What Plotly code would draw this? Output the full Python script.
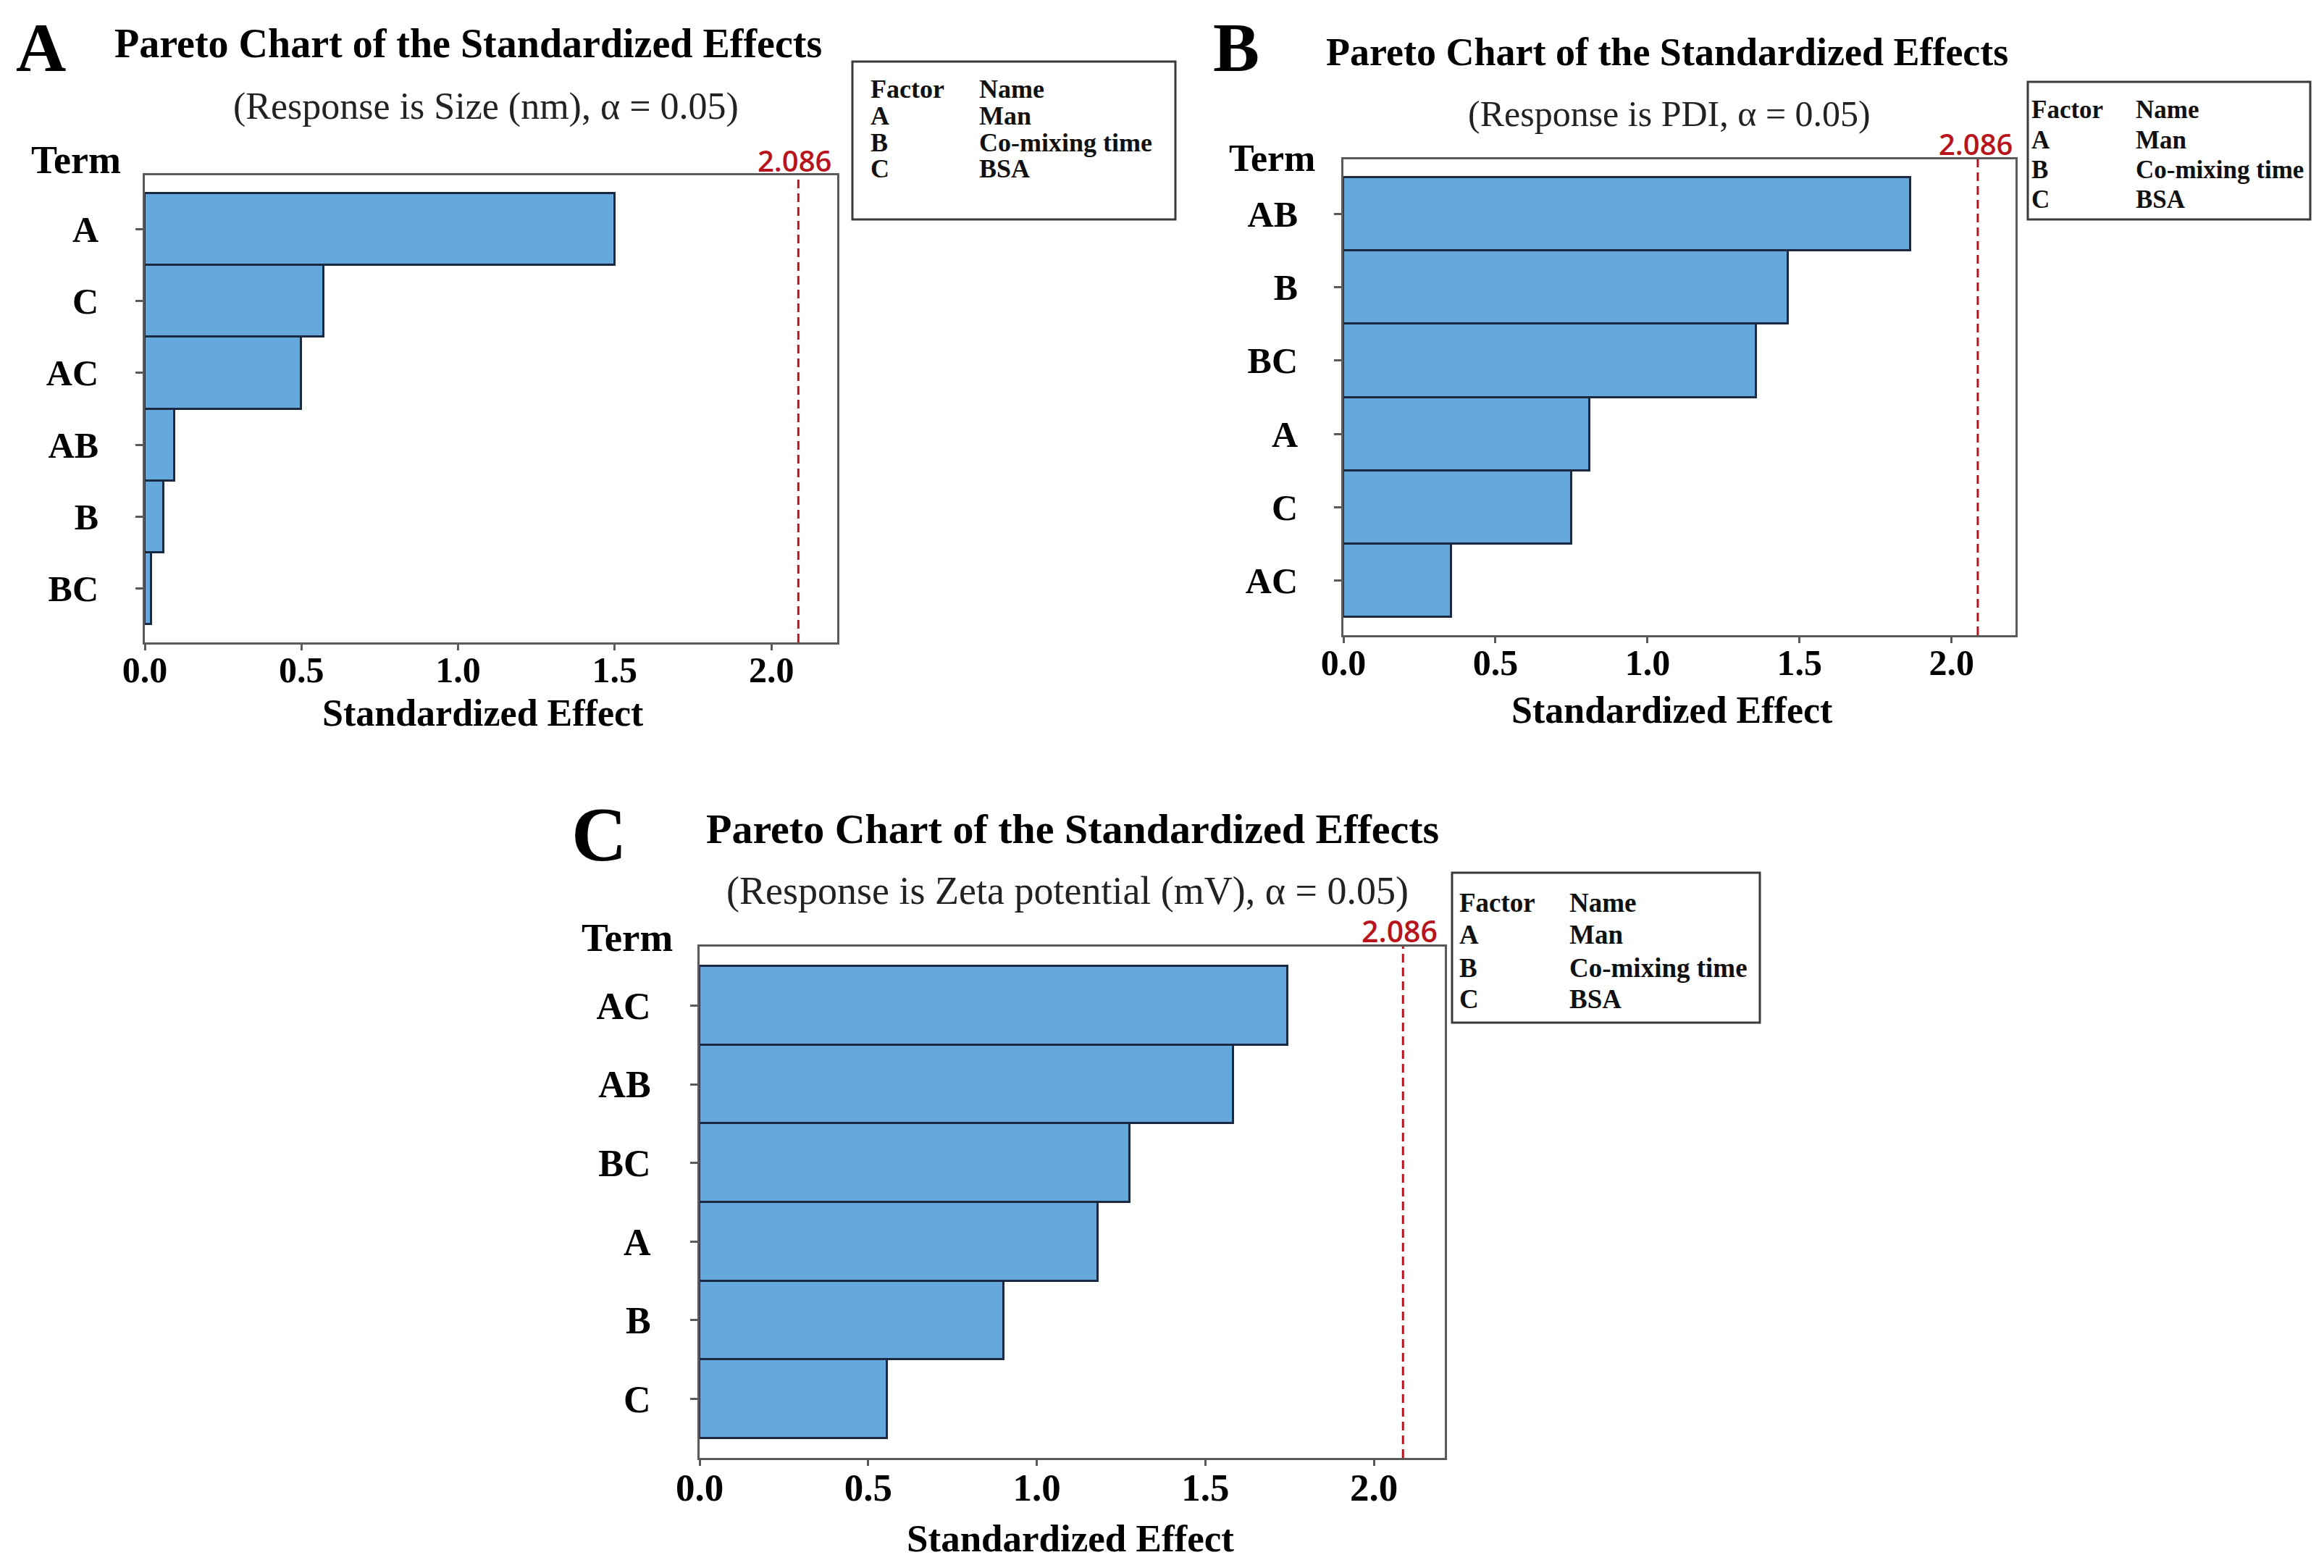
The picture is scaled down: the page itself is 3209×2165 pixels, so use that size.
import plotly.graph_objects as go

W, H = 3209, 2165

# ---------------- data ----------------
terms_a = ["A", "C", "AC", "AB", "B", "BC"]
effects_a = [1.50, 0.57, 0.50, 0.095, 0.06, 0.02]

terms_b = ["AB", "B", "BC", "A", "C", "AC"]
effects_b = [1.865, 1.463, 1.357, 0.81, 0.75, 0.355]

terms_c = ["AC", "AB", "BC", "A", "B", "C"]
effects_c = [1.745, 1.583, 1.275, 1.182, 0.902, 0.557]

critical = 2.086
x_ticks = [0.0, 0.5, 1.0, 1.5, 2.0]
x_ticktext = ["0.0", "0.5", "1.0", "1.5", "2.0"]

factors = ["A", "B", "C"]
factor_names = ["Man", "Co-mixing time", "BSA"]

panel_letters = ["A", "B", "C"]
subtitles = ["(Response is Size (nm), α = 0.05)",
             "(Response is PDI, α = 0.05)",
             "(Response is Zeta potential (mV), α = 0.05)"]
title_text = "Pareto Chart of the Standardized Effects"

# ---------------- layout helpers ----------------
OFF = 8  # page body margin offset compensation

def px(x):
    return (x - OFF) / W

def py(y):
    return 1 - (y - OFF) / H

SERIF = "Liberation Serif"
SANS = "Open Sans"
BAR_COLOR = "#65A8DC"
BAR_LINE = "#1B2A40"
FRAME = "#5A5A5A"
RED = "#B8141E"

panels = [
    dict(terms=terms_a, vals=effects_a, box=(200, 1156, 242, 887),
         letter=(56, 66, 96), title=(646, 60, 56), sub=(671, 147, 52),
         term=(105, 221, 54), crit=(1097, 221, 40), xt=(667, 985, 52),
         tick=50, ytick=50, ystand=41, xstand=-16,
         legbox=(1177, 1623, 85, 303), legcols=(1200, 1350),
         legrows=(123, 160, 197, 233), legfs=36),
    dict(terms=terms_b, vals=effects_b, box=(1855, 2783, 220, 877),
         letter=(1707, 66, 96), title=(2302, 72, 54), sub=(2305, 157, 50),
         term=(1756, 219, 52), crit=(2728, 199, 40), xt=(2309, 980, 52),
         tick=50, ytick=50, ystand=40, xstand=-16,
         legbox=(2800, 3190, 113, 303), legcols=(2803, 2947),
         legrows=(152, 193, 235, 275), legfs=35),
    dict(terms=terms_c, vals=effects_c, box=(966, 1995, 1307, 2013),
         letter=(828, 1152, 106), title=(1481, 1144, 58), sub=(1474, 1230, 54),
         term=(866, 1294, 55), crit=(1933, 1285, 41), xt=(1478, 2124, 53),
         tick=53, ytick=52, ystand=44, xstand=-16,
         legbox=(2005, 2430, 1205, 1412), legcols=(2013, 2165),
         legrows=(1246, 1290, 1336, 1380), legfs=37),
]

fig = go.Figure()
annotations = []
shapes = []

for i, p in enumerate(panels):
    n = "" if i == 0 else str(i + 1)
    xa, ya = "x" + n, "y" + n
    x0, x1, y0, y1 = p["box"]

    fig.add_trace(go.Bar(
        x=p["vals"], y=p["terms"], orientation="h", width=1,
        marker=dict(color=BAR_COLOR, line=dict(color=BAR_LINE, width=3)),
        xaxis=xa, yaxis=ya, showlegend=False, hoverinfo="x+y"))

    fig.layout["xaxis" + n] = dict(
        domain=[px(x0), px(x1)], anchor=ya, range=[0, 2.21], automargin=False,
        showgrid=False, zeroline=False, showline=True, mirror=True,
        linecolor=FRAME, linewidth=3, ticks="outside", ticklen=8,
        tickwidth=3, tickcolor=FRAME, tickvals=x_ticks,
        ticktext=["<b>%s</b>" % t for t in x_ticktext],
        tickfont=dict(family=SERIF, size=p["tick"], color="black"),
        ticklabelstandoff=p["xstand"])
    fig.layout["yaxis" + n] = dict(
        domain=[py(y1), py(y0)], anchor=xa, type="category", automargin=False,
        categoryorder="array", categoryarray=p["terms"],
        range=[len(p["terms"]) - 0.25, -0.75],
        showgrid=False, zeroline=False, showline=True, mirror=True,
        linecolor=FRAME, linewidth=3, ticks="outside", ticklen=10,
        tickwidth=3, tickcolor=FRAME, tickvals=p["terms"],
        ticktext=["<b>%s</b>" % t for t in p["terms"]],
        tickfont=dict(family=SERIF, size=p["ytick"], color="black"),
        ticklabelstandoff=p["ystand"])

    # critical value line
    shapes.append(dict(type="line", xref=xa, yref=ya + " domain",
                       x0=critical, x1=critical, y0=0, y1=1,
                       line=dict(color=RED, width=3, dash="12px,7px")))

    lx, ly, lfs = p["letter"]
    annotations.append(dict(text="<b>%s</b>" % panel_letters[i], x=px(lx), y=py(ly),
                            xref="paper", yref="paper", showarrow=False,
                            xanchor="center", yanchor="middle",
                            font=dict(family=SERIF, size=lfs, color="black")))
    tx, ty, tfs = p["title"]
    annotations.append(dict(text="<b>%s</b>" % title_text, x=px(tx), y=py(ty),
                            xref="paper", yref="paper", showarrow=False,
                            xanchor="center", yanchor="middle",
                            font=dict(family=SERIF, size=tfs, color="black")))
    sx, sy, sfs = p["sub"]
    annotations.append(dict(text=subtitles[i], x=px(sx), y=py(sy),
                            xref="paper", yref="paper", showarrow=False,
                            xanchor="center", yanchor="middle",
                            font=dict(family=SERIF, size=sfs, color="#222222")))
    mx, my, mfs = p["term"]
    annotations.append(dict(text="<b>Term</b>", x=px(mx), y=py(my),
                            xref="paper", yref="paper", showarrow=False,
                            xanchor="center", yanchor="middle",
                            font=dict(family=SERIF, size=mfs, color="black")))
    cx, cy, cfs = p["crit"]
    annotations.append(dict(text="%.3f" % critical, x=px(cx), y=py(cy),
                            xref="paper", yref="paper", showarrow=False,
                            xanchor="center", yanchor="middle",
                            font=dict(family=SANS, size=cfs, color=RED, weight=600)))
    ax_, ay_, afs = p["xt"]
    annotations.append(dict(text="<b>Standardized Effect</b>", x=px(ax_), y=py(ay_),
                            xref="paper", yref="paper", showarrow=False,
                            xanchor="center", yanchor="middle",
                            font=dict(family=SERIF, size=afs, color="black")))

    # factor legend box
    bx0, bx1, by0, by1 = p["legbox"]
    shapes.append(dict(type="rect", xref="paper", yref="paper",
                       x0=px(bx0), x1=px(bx1), y0=py(by1), y1=py(by0),
                       line=dict(color="#3A3A3A", width=3), fillcolor="white"))
    c1, c2 = p["legcols"]
    rows = p["legrows"]
    col1 = ["Factor"] + factors
    col2 = ["Name"] + factor_names
    for r in range(4):
        for cx_, txt in ((c1, col1[r]), (c2, col2[r])):
            annotations.append(dict(text="<b>%s</b>" % txt, x=px(cx_), y=py(rows[r]),
                                    xref="paper", yref="paper", showarrow=False,
                                    xanchor="left", yanchor="middle",
                                    font=dict(family=SERIF, size=p["legfs"], color="#111111")))

fig.update_layout(
    width=W, height=H, margin=dict(l=0, r=0, t=0, b=0, autoexpand=False),
    paper_bgcolor="white", plot_bgcolor="white",
    bargap=0, annotations=annotations, shapes=shapes, showlegend=False)

fig.write_html("out.html")
